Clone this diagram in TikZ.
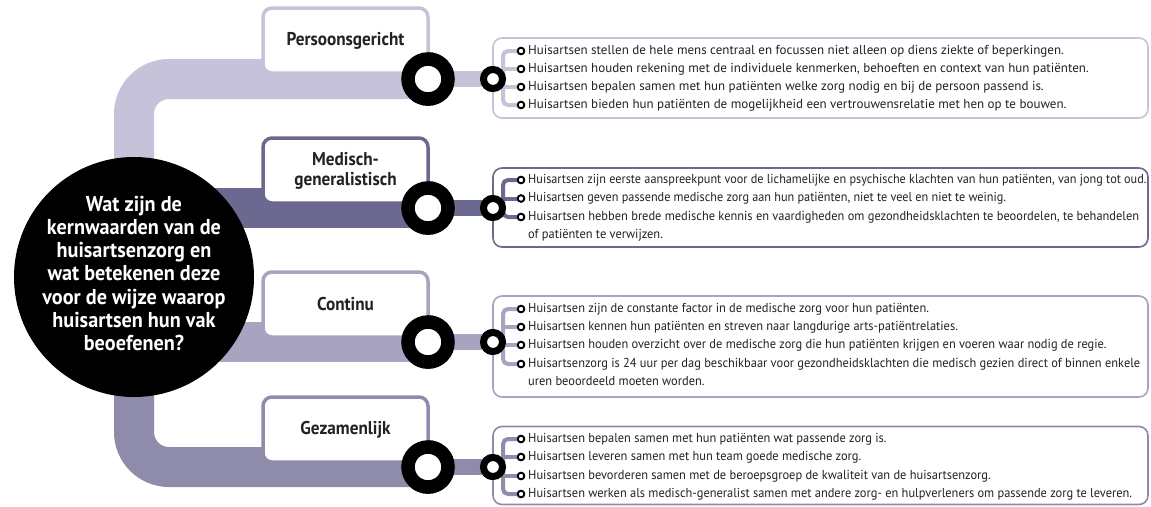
\documentclass[tikz,border=0pt]{standalone}
\usepackage{fontspec}
\setmainfont{PT Sans}
\newfontfamily\bodyA[FakeStretch=1.0]{PT Sans}
\newfontfamily\bodyB[FakeStretch=0.94]{PT Sans}
\newfontfamily\bodyC[FakeStretch=0.955]{PT Sans}
\newfontfamily\headfont[FakeStretch=0.93]{PT Sans}
\newfontfamily\qfont[FakeStretch=0.94]{PT Sans}
\definecolor{cA}{HTML}{C6C2DA}
\definecolor{cB}{HTML}{6C6990}
\definecolor{cC}{HTML}{A7A3C0}
\definecolor{cD}{HTML}{8F8BAB}
\definecolor{txt}{HTML}{222222}
\begin{document}
\begin{tikzpicture}[x=1pt,y=-1pt,
  track/.style={line width=40pt, rounded corners=35pt},
  link/.style={line width=16pt},
  titlebox/.style={draw, line width=3.5pt, fill=white, rounded corners=9pt,
    minimum width=165pt, minimum height=65pt, inner sep=0pt, align=center,
    text=txt, font=\headfont\bfseries\fontsize{18.5}{20}\selectfont},
  listbox/.style={draw, line width=1.6pt, fill=white, rounded corners=9pt,
    minimum width=655pt, inner sep=0pt},
  bigring/.style={circle, draw=black, line width=13.5pt, fill=white,
    minimum size=40pt, inner sep=0pt},
  smallring/.style={circle, draw=black, line width=7pt, fill=white,
    minimum size=19pt, inner sep=0pt},
  bullet/.style={circle, draw=black, line width=1.8pt, fill=white,
    minimum size=6.5pt, inner sep=0pt},
  brk/.style={line width=4pt, rounded corners=5pt},
  item/.style={anchor=west, inner sep=0pt, text height=9pt, text depth=3pt,
    text=txt},
  itemA/.style={item, font=\bodyA\fontsize{13}{15}\selectfont},
  itemB/.style={item, font=\bodyB\fontsize{13}{15}\selectfont},
  itemC/.style={item, font=\bodyC\fontsize{13}{15}\selectfont}
]
\useasboundingbox (0,0) rectangle (1151,506);

\coordinate (qc) at (134,277);

% big rings
\node[bigring] (r1) at (428,79) {};
\node[bigring] (r2) at (428,208) {};
\node[bigring] (r3) at (428,342) {};
\node[bigring] (r4) at (428,467) {};
% small rings
\node[smallring] (s1) at (493,79) {};
\node[smallring] (s2) at (493,208) {};
\node[smallring] (s3) at (493,342) {};
\node[smallring] (s4) at (493,467) {};

% tracks
\draw[track, cA] (r1.center) -| (qc);
\draw[track, cB] (r2.center) -- (r2.center -| qc);
\draw[track, cC] (r3.center) -- (r3.center -| qc);
\draw[track, cD] (r4.center) -| (qc);
% links big ring -> small ring
\draw[link, cA] (r1.center) -- (s1.center);
\draw[link, cB] (r2.center) -- (s2.center);
\draw[link, cC] (r3.center) -- (s3.center);
\draw[link, cD] (r4.center) -- (s4.center);

% title boxes
\node[titlebox, draw=cA] (t1) at (345.5,40.5) {Persoonsgericht};
\node[titlebox, draw=cB] (t2) at (345.5,170.5) {Medisch-\\generalistisch};
\node[titlebox, draw=cC] (t3) at (345.5,304.5) {Continu};
\node[titlebox, draw=cD] (t4) at (345.5,429.5) {Gezamenlijk};

% list boxes
\node[listbox, draw=cA, minimum height=80pt] (l1) at (820.5,78) {};
\node[listbox, draw=cB, minimum height=79pt] (l2) at (820.5,207.5) {};
\node[listbox, draw=cC, minimum height=101pt] (l3) at (820.5,346.5) {};
\node[listbox, draw=cD, minimum height=78pt] (l4) at (820.5,465.5) {};

% bullets
\node[bullet] (b11) at (521,51) {};
\node[bullet] (b12) at (521,69) {};
\node[bullet] (b13) at (521,87) {};
\node[bullet] (b14) at (521,105) {};
\node[bullet] (b21) at (521,180) {};
\node[bullet] (b22) at (521,198.5) {};
\node[bullet] (b23) at (521,217) {};
\node[bullet] (b31) at (521,309) {};
\node[bullet] (b32) at (521,327) {};
\node[bullet] (b33) at (521,345) {};
\node[bullet] (b34) at (521,364) {};
\node[bullet] (b41) at (521,439) {};
\node[bullet] (b42) at (521,457) {};
\node[bullet] (b43) at (521,476) {};
\node[bullet] (b44) at (521,494) {};

% bracket spines
\coordinate (k1) at (503,79);
\coordinate (k2) at (503,208);
\coordinate (k3) at (503,342);
\coordinate (k4) at (503,467);

\draw[brk, cA] (s1.center) -- (k1);
\draw[brk, cA] (b11.center) -- (k1 |- b11.center) -- (k1 |- b14.center) -- (b14.center);
\draw[brk, cA] (b12.center) -- (k1 |- b12.center);
\draw[brk, cA] (b13.center) -- (k1 |- b13.center);

\draw[brk, cB] (s2.center) -- (k2);
\draw[brk, cB] (b21.center) -- (k2 |- b21.center) -- (k2 |- b23.center) -- (b23.center);
\draw[brk, cB] (b22.center) -- (k2 |- b22.center);

\draw[brk, cC] (s3.center) -- (k3);
\draw[brk, cC] (b31.center) -- (k3 |- b31.center) -- (k3 |- b34.center) -- (b34.center);
\draw[brk, cC] (b32.center) -- (k3 |- b32.center);
\draw[brk, cC] (b33.center) -- (k3 |- b33.center);

\draw[brk, cD] (s4.center) -- (k4);
\draw[brk, cD] (b41.center) -- (k4 |- b41.center) -- (k4 |- b44.center) -- (b44.center);
\draw[brk, cD] (b42.center) -- (k4 |- b42.center);
\draw[brk, cD] (b43.center) -- (k4 |- b43.center);

% redraw rings and bullets on top
\foreach \n in {r1,r2,r3,r4}{\node[bigring] at (\n) {};}
\foreach \n in {s1,s2,s3,s4}{\node[smallring] at (\n) {};}
\foreach \n in {b11,b12,b13,b14,b21,b22,b23,b31,b32,b33,b34,b41,b42,b43,b44}{\node[bullet] at (\n) {};}

% centre circle
\node[circle, fill=black, minimum size=240pt, inner sep=0pt] (q) at (qc) {};
\node[text=white, align=center, inner sep=0pt,
  font=\qfont\bfseries\fontsize{21.5}{23.3}\selectfont] (qt) at ([yshift=3.5pt]q.center)
  {Wat zijn de\\kernwaarden van de\\huisartsenzorg en\\wat betekenen deze\\voor de wijze waarop\\huisartsen hun vak\\beoefenen?};

% texts
\node[itemA] (x11) at (528,51) {Huisartsen stellen de hele mens centraal en focussen niet alleen op diens ziekte of beperkingen.};
\node[itemA] (x12) at (528,69) {Huisartsen houden rekening met de individuele kenmerken, behoeften en context van hun patiënten.};
\node[itemA] (x13) at (528,87) {Huisartsen bepalen samen met hun patiënten welke zorg nodig en bij de persoon passend is.};
\node[itemA] (x14) at (528,105) {Huisartsen bieden hun patiënten de mogelijkheid een vertrouwensrelatie met hen op te bouwen.};

\node[itemB] (x21) at (528,180) {Huisartsen zijn eerste aanspreekpunt voor de lichamelijke en psychische klachten van hun patiënten, van jong tot oud.};
\node[itemB] (x22) at (528,198.5) {Huisartsen geven passende medische zorg aan hun patiënten, niet te veel en niet te weinig.};
\node[itemC] (x23) at (528,217) {Huisartsen hebben brede medische kennis en vaardigheden om gezondheidsklachten te beoordelen, te behandelen};
\node[itemC] (x24) at (528,235.5) {of patiënten te verwijzen.};

\node[itemC] (x31) at (528,309) {Huisartsen zijn de constante factor in de medische zorg voor hun patiënten.};
\node[itemC] (x32) at (528,327) {Huisartsen kennen hun patiënten en streven naar langdurige arts-patiëntrelaties.};
\node[itemC] (x33) at (528,345) {Huisartsen houden overzicht over de medische zorg die hun patiënten krijgen en voeren waar nodig de regie.};
\node[itemC] (x34) at (528,364) {Huisartsenzorg is 24 uur per dag beschikbaar voor gezondheidsklachten die medisch gezien direct of binnen enkele};
\node[itemC] (x35) at (528,382) {uren beoordeeld moeten worden.};

\node[itemC] (x41) at (528,439) {Huisartsen bepalen samen met hun patiënten wat passende zorg is.};
\node[itemC] (x42) at (528,457) {Huisartsen leveren samen met hun team goede medische zorg.};
\node[itemC] (x43) at (528,476) {Huisartsen bevorderen samen met de beroepsgroep de kwaliteit van de huisartsenzorg.};
\node[itemC] (x44) at (528,494) {Huisartsen werken als medisch-generalist samen met andere zorg- en hulpverleners om passende zorg te leveren.};
\end{tikzpicture}
\end{document}
